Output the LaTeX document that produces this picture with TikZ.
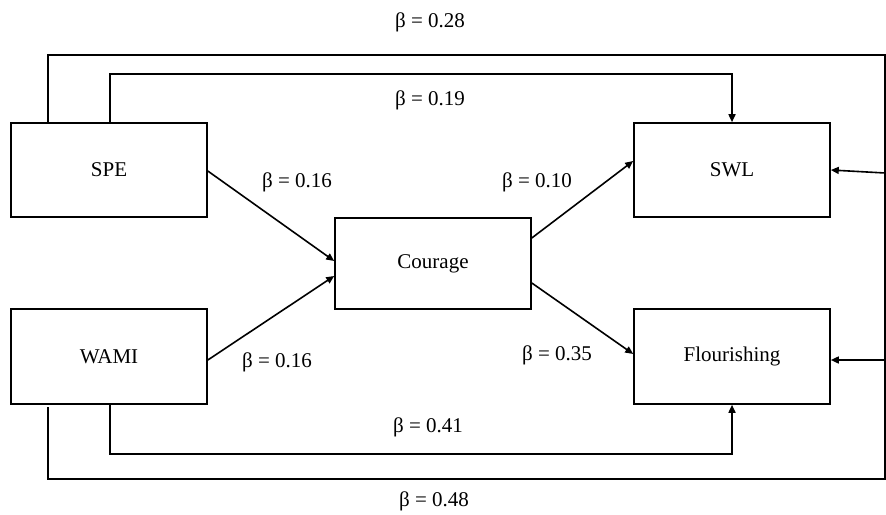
\documentclass[tikz,border=0pt]{standalone}
\usepackage{fontspec}
\setmainfont{Liberation Serif}
\usetikzlibrary{arrows.meta,calc}
\begin{document}
\begin{tikzpicture}[x=1pt,y=-1pt,
  box/.style={draw,line width=1.6pt,minimum width=196pt,inner sep=0pt,font=\fontsize{21}{25}\selectfont},
  conn/.style={line width=1.6pt},
  arr/.style={line width=1.6pt,-{Triangle[length=8pt,width=7pt]}},
  lbl/.style={font=\fontsize{21}{25}\selectfont,inner sep=0pt}]
\useasboundingbox (0,0) rectangle (886,514);
\node[box,minimum height=94pt] (spe) at (109,170) {SPE};
\node[box,minimum height=95pt] (wami) at (109,356.5) {WAMI};
\node[box,minimum height=91pt] (cour) at (433,263.5) {Courage};
\node[box,minimum height=94pt] (swl) at (732,170) {SWL};
\node[box,minimum height=95pt] (flo) at (732,356.5) {Flourishing};
% direct paths
\draw[arr] ([yshift=-1pt]spe.east) -- ([yshift=2.5pt]cour.west);
\draw[arr] ([yshift=-3.5pt]wami.east) -- ([yshift=-12.5pt]cour.west);
\draw[arr] ([yshift=25.5pt]cour.east) -- ([yshift=9pt]swl.west);
\draw[arr] ([yshift=-19.5pt]cour.east) -- ([yshift=2.5pt]flo.west);
% inner loops
\draw[arr] (spe.north -| 110,0) |- (swl.north |- 0,74) coordinate (t1) -- (swl.north);
\draw[arr] (wami.south -| 110,0) |- (flo.south |- 0,454) coordinate (b1) -- (flo.south);
% outer loop
\coordinate (tr) at (885,55);
\coordinate (br) at (885,479);
\coordinate (ws) at (48,407);
\draw[conn] (spe.north -| 48,0) |- (tr) -- (br) -| (ws);
\coordinate (r1) at (885,173);
\coordinate (r2) at (885,360);
\draw[arr] (r1) -- (swl.east);
\draw[arr] (r2) -- (flo.east |- r2);
% labels
\node[lbl] (l28) at (430,22) {β = 0.28};
\node[lbl] (l19) at (430,100) {β = 0.19};
\node[lbl] (l41) at (428,427) {β = 0.41};
\node[lbl] (l48) at (434,501) {β = 0.48};
\node[lbl] (l16a) at (297,182) {β = 0.16};
\node[lbl] (l16b) at (277,362) {β = 0.16};
\node[lbl] (l10) at (537,182) {β = 0.10};
\node[lbl] (l35) at (557,355) {β = 0.35};
\end{tikzpicture}
\end{document}
